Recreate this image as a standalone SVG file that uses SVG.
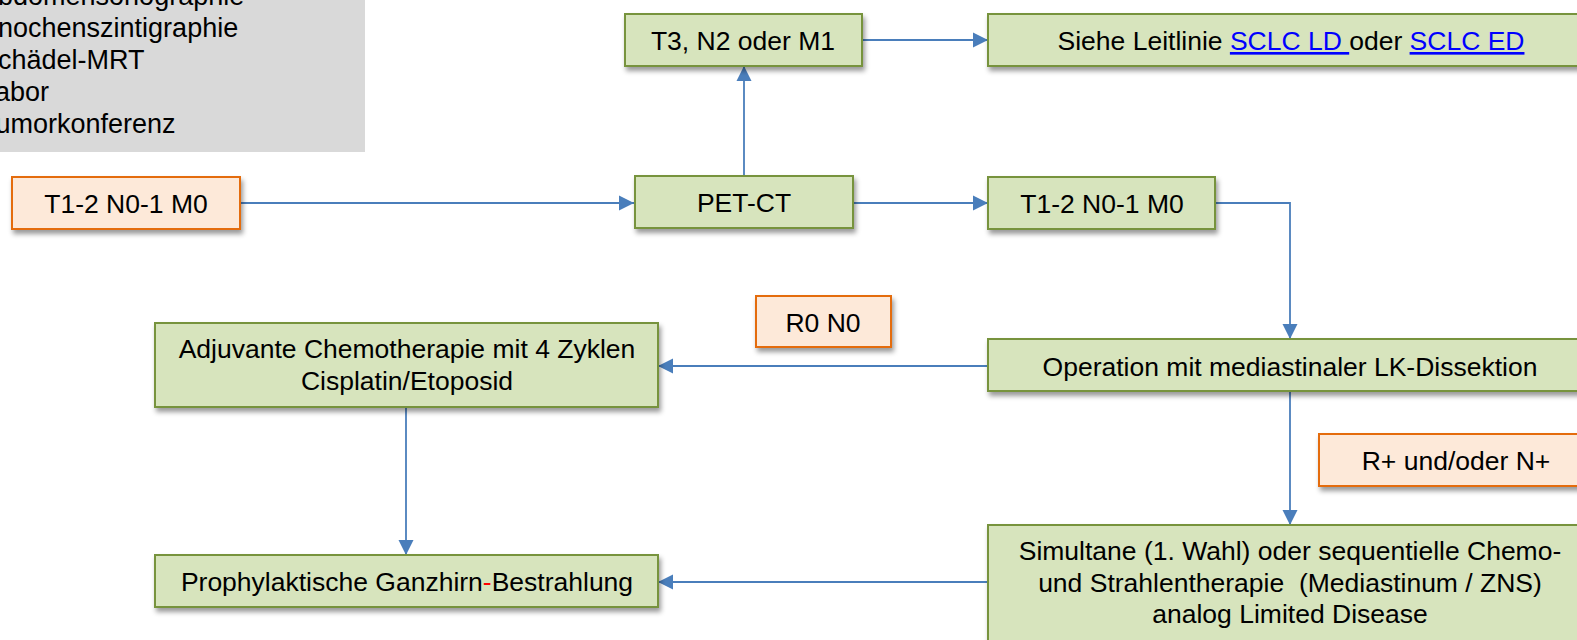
<svg xmlns="http://www.w3.org/2000/svg" width="1577" height="640" viewBox="0 0 1577 640">
<style>
text{font-family:"Liberation Sans",Arial,sans-serif;font-size:26.5px;fill:#000;}
.c{text-anchor:middle;}
.gt{font-size:27px;}
.g{fill:#D7E4BD;stroke:#77933C;stroke-width:2;}
.o{fill:#FDE9D9;stroke:#E46C0A;stroke-width:2;}
.sh{filter:url(#ds);}
.ln{fill:none;stroke:#4A7EBB;stroke-width:1.8;}
.lnk{fill:#0000FF;text-decoration:underline;}
</style>
<defs>
<filter id="ds" x="-10%" y="-30%" width="120%" height="170%">
<feDropShadow dx="2" dy="4" stdDeviation="2.5" flood-color="#000" flood-opacity="0.4"/>
</filter>
<marker id="ah" viewBox="0 0 10 10" refX="10" refY="5" markerUnits="userSpaceOnUse" markerWidth="15" markerHeight="16" orient="auto">
<path d="M0,0 L10,5 L0,10 z" fill="#4A7EBB"/>
</marker>
</defs>

<g id="info">
<rect x="0" y="0" width="365" height="152" fill="#D9D9D9"/>
<text class="gt" x="-20" y="5">Abdomensonographie</text>
<text class="gt" x="-20" y="37">Knochenszintigraphie</text>
<text class="gt" x="-20" y="69">Schädel-MRT</text>
<text class="gt" x="-20" y="101">Labor</text>
<text class="gt" x="-20" y="133">Tumorkonferenz</text>
</g>

<g id="connectors">
<line class="ln" x1="240" y1="203" x2="634" y2="203" marker-end="url(#ah)"/>
<line class="ln" x1="744" y1="176" x2="744" y2="66" marker-end="url(#ah)"/>
<line class="ln" x1="862" y1="40" x2="988" y2="40" marker-end="url(#ah)"/>
<line class="ln" x1="853" y1="203" x2="988" y2="203" marker-end="url(#ah)"/>
<polyline class="ln" points="1215,203 1290,203 1290,339" marker-end="url(#ah)"/>
<line class="ln" x1="988" y1="366" x2="658" y2="366" marker-end="url(#ah)"/>
<line class="ln" x1="1290" y1="391" x2="1290" y2="525" marker-end="url(#ah)"/>
<line class="ln" x1="406" y1="407" x2="406" y2="555" marker-end="url(#ah)"/>
<line class="ln" x1="988" y1="582" x2="658" y2="582" marker-end="url(#ah)"/>
</g>

<g id="start">
<rect class="o sh" x="12" y="177" width="228" height="52"/>
<text class="c" x="126" y="213">T1-2 N0-1 M0</text>
</g>

<g id="petct">
<rect class="g sh" x="635" y="176" width="218" height="52"/>
<text class="c" x="744" y="212">PET-CT</text>
</g>

<g id="t3">
<rect class="g sh" x="625" y="14" width="237" height="52"/>
<text class="c" x="743" y="50">T3, N2 oder M1</text>
</g>

<g id="leitlinie">
<rect class="g sh" x="988" y="14" width="606" height="52"/>
<text class="c" x="1291" y="50" xml:space="preserve">Siehe Leitlinie <tspan class="lnk">SCLC LD </tspan>oder <tspan class="lnk">SCLC ED</tspan></text>
</g>

<g id="t12b">
<rect class="g sh" x="988" y="177" width="227" height="52"/>
<text class="c" x="1102" y="213">T1-2 N0-1 M0</text>
</g>

<g id="operation">
<rect class="g sh" x="988" y="339" width="606" height="52"/>
<text class="c" x="1290" y="376">Operation mit mediastinaler LK-Dissektion</text>
</g>

<g id="r0n0">
<rect class="o sh" x="756" y="296" width="135" height="51"/>
<text class="c" x="823" y="332">R0 N0</text>
</g>

<g id="adjuvant">
<rect class="g sh" x="155" y="323" width="503" height="84"/>
<text class="c" x="407" y="358">Adjuvante Chemotherapie mit 4 Zyklen</text>
<text class="c" x="407" y="390">Cisplatin/Etoposid</text>
</g>

<g id="rplus">
<rect class="o sh" x="1319" y="434" width="276" height="52"/>
<text class="c" x="1456" y="470">R+ und/oder N+</text>
</g>

<g id="simultan">
<rect class="g sh" x="988" y="525" width="606" height="130"/>
<text class="c" x="1290" y="560">Simultane (1. Wahl) oder sequentielle Chemo-</text>
<text class="c" x="1290" y="592" xml:space="preserve">und Strahlentherapie  (Mediastinum / ZNS)</text>
<text class="c" x="1290" y="623">analog Limited Disease</text>
</g>

<g id="pci">
<rect class="g sh" x="155" y="555" width="503" height="52"/>
<text class="c" x="407" y="591">Prophylaktische Ganzhirn<tspan fill="#FF0000">-</tspan>Bestrahlung</text>
</g>
</svg>
